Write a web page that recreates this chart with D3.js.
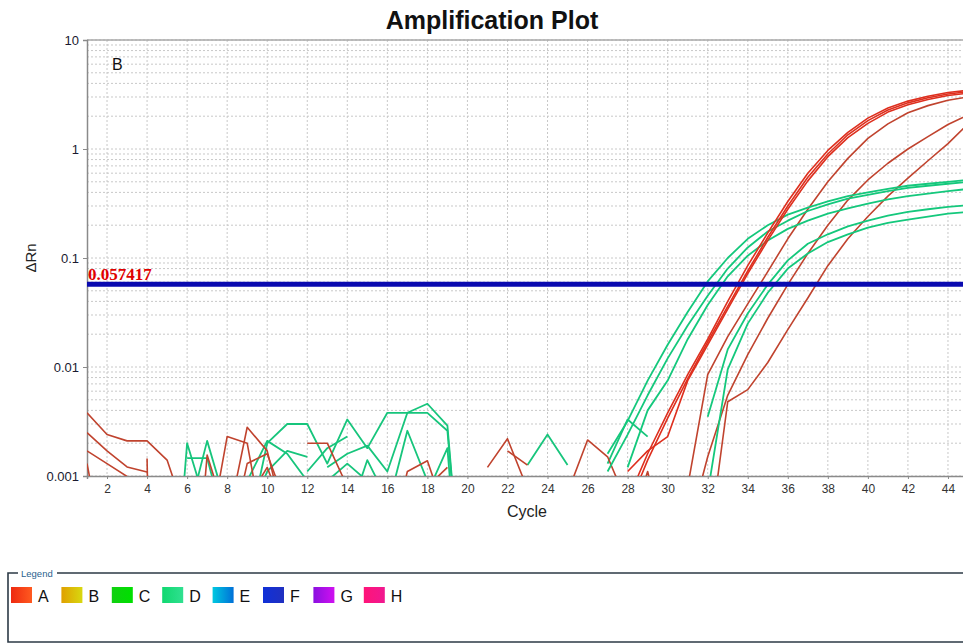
<!DOCTYPE html>
<html><head><meta charset="utf-8">
<script src="https://cdn.jsdelivr.net/npm/d3@7"></script>
<style>body{margin:0;background:#fff;overflow:hidden}svg{display:block}</style>
</head><body><svg id="c" width="963" height="644"></svg>
<script>
// ---- data ----
const xTickValues = [2,4,6,8,10,12,14,16,18,20,22,24,26,28,30,32,34,36,38,40,42,44];
const yTickValues = [0.001,0.01,0.1,1,10];
const yTickLabels = ["0.001","0.01","0.1","1","10"];
const threshold = 0.057417;
const legendLabels = ["A","B","C","D","E","F","G","H"];
const legendColorsFrom = ["#ee2a10","#e0a000","#10d010","#10d870","#00c8e0","#1030d8","#8a10e0","#ff1478"];
const legendColorsTo   = ["#ff5a20","#d8d810","#00e000","#30e090","#0070d8","#2030c0","#d010f0","#f01890"];

// amplification curves [cycle, ΔRn]
const redA1 = [[28,0.0006],[29,0.0016],[30,0.0038],[31,0.0085],[32,0.018],[33,0.040],[34,0.085],[35,0.17],[36,0.33],[37,0.6],[38,0.97],[39,1.42],[40,1.92],[41,2.38],[42,2.75],[43,3.05],[44,3.3],[45,3.45]];
const redA2 = [[28,0.0005],[29,0.0014],[30,0.0034],[31,0.0078],[32,0.017],[33,0.036],[34,0.076],[35,0.155],[36,0.3],[37,0.55],[38,0.9],[39,1.35],[40,1.82],[41,2.28],[42,2.65],[43,2.95],[44,3.2],[45,3.35]];
const redA3 = [[28,0.0011],[29,0.0017],[30,0.0023],[31,0.0075],[32,0.016],[33,0.034],[34,0.072],[35,0.145],[36,0.28],[37,0.51],[38,0.85],[39,1.27],[40,1.72],[41,2.18],[42,2.55],[43,2.85],[44,3.1],[45,3.25]];
const redA4 = [[31,0.0008],[32,0.0085],[33,0.019],[34,0.038],[35,0.075],[36,0.15],[37,0.28],[38,0.5],[39,0.82],[40,1.25],[41,1.7],[42,2.15],[43,2.5],[44,2.8],[45,3.0]];
const redA5 = [[31,0.0003],[32,0.0015],[33,0.0055],[34,0.013],[35,0.028],[36,0.057],[37,0.11],[38,0.2],[39,0.34],[40,0.52],[41,0.74],[42,1.0],[43,1.3],[44,1.68],[45,2.05]];
const redA6 = [[32,0.0002],[33,0.0048],[34,0.0062],[35,0.011],[36,0.022],[37,0.043],[38,0.085],[39,0.15],[40,0.24],[41,0.37],[42,0.54],[43,0.78],[44,1.12],[45,1.7]];

const greenD1 = [[27,0.0016],[28,0.0032],[29,0.0075],[30,0.016],[31,0.032],[32,0.061],[33,0.1],[34,0.15],[35,0.2],[36,0.25],[37,0.29],[38,0.33],[39,0.37],[40,0.4],[41,0.43],[42,0.46],[43,0.48],[44,0.5],[45,0.52]];
const greenD2 = [[27,0.0011],[28,0.0024],[29,0.0055],[30,0.012],[31,0.024],[32,0.045],[33,0.08],[34,0.125],[35,0.175],[36,0.22],[37,0.27],[38,0.31],[39,0.35],[40,0.38],[41,0.41],[42,0.44],[43,0.46],[44,0.48],[45,0.5]];
const greenD3 = [[28,0.0012],[29,0.004],[30,0.0075],[31,0.018],[32,0.037],[33,0.068],[34,0.105],[35,0.145],[36,0.185],[37,0.22],[38,0.255],[39,0.285],[40,0.315],[41,0.345],[42,0.37],[43,0.39],[44,0.41],[45,0.43]];
const greenD4 = [[32,0.0035],[33,0.0145],[34,0.031],[35,0.057],[36,0.095],[37,0.135],[38,0.165],[39,0.195],[40,0.22],[41,0.245],[42,0.265],[43,0.28],[44,0.295],[45,0.305]];
const greenD5 = [[32,0.0007],[33,0.0095],[34,0.025],[35,0.048],[36,0.08],[37,0.11],[38,0.14],[39,0.165],[40,0.19],[41,0.21],[42,0.225],[43,0.24],[44,0.255],[45,0.265]];

// background noise fragments
const redN1 = [[1,0.0038],[2,0.0024],[3,0.0021],[4,0.0021],[5,0.0014],[6,0.0004]];
const redN2 = [[1,0.0025],[2,0.0017],[3,0.00121],[4,0.00109]];
const redN3 = [[4,0.00145],[4.02,0.0009]];
const redN4 = [[1,0.0017],[2,0.0013],[3,0.00099]];
const redN5 = [[1,0.0013],[2,0.00015]];
const redN6 = [[6,0.00001],[7,0.00156],[8,0.0004]];
const redN7 = [[7,0.00022],[8,0.0023],[9,0.002],[10,0.0002]];
const redN8 = [[8,0.00036],[9,0.0028],[10,0.0017],[11,0.0003]];
const redN9 = [[8,0.0002],[9,0.0013],[10,0.0016],[11,0.0005]];
const redN10 = [[9,0.0006],[10,0.0012],[11,0.0004]];
const redN11 = [[12,0.002],[13,0.002],[14,0.0008]];
const redN12 = [[16,0.0002],[17,0.0011],[18,0.00138],[19,0.0004]];
const redN13 = [[18,0.0008],[19,0.0012]];
const redN14 = [[21,0.0012],[22,0.0022],[23,0.00076]];
const redN15 = [[22,0.0017],[23,0.00126]];
const redN16 = [[25,0.0007],[26,0.00214],[27,0.0015],[28,0.00055]];
const redN17 = [[28,0.0003],[29,0.0011],[30,0.0002]];

const greenN1 = [[5,0.00001],[6,0.002],[7,0.0005]];
const greenN2 = [[6,0.00146],[7,0.00146],[8,0.0003]];
const greenN3 = [[6,0.0004],[7,0.0021],[8,0.0005]];
const greenN4 = [[9,0.00028],[10,0.002],[11,0.003],[12,0.003],[13,0.0013],[14,0.0033],[15,0.0018],[16,0.0038],[17,0.0038],[18,0.0038],[19,0.0026],[20,0.00002]];
const greenN5 = [[9,0.0009],[10,0.0021],[11,0.0016],[12,0.0009]];
const greenN6 = [[9,0.0004],[10,0.0011],[11,0.0017],[12,0.0015]];
const greenN7 = [[12,0.0011],[13,0.0018],[14,0.0023]];
const greenN8 = [[13,0.0012],[14,0.0016],[15,0.0019],[16,0.0011],[17,0.0038],[18,0.0046],[19,0.0029],[20,0.00002]];
const greenN9 = [[16,0.0005],[17,0.0026],[18,0.0009]];
const greenN10 = [[18,0.0007],[19,0.0018],[20,0.00001]];
const greenN11 = [[23,0.00126],[24,0.0024],[25,0.00126]];
const greenN12 = [[27,0.0013],[28,0.0033],[29,0.0023]];
const greenN13 = [[14,0.0004],[15,0.0014],[16,0.0006]];
const greenN14 = [[13,0.0009],[14,0.0013],[15,0.0009]];

const brightReds = [redA1, redA2, redA3];
const darkReds = [redA4, redA5, redA6, redN1, redN2, redN3, redN4, redN5, redN6, redN7, redN8, redN9, redN10, redN11, redN12, redN13, redN14, redN15, redN16, redN17];
const greenCurves = [greenD1, greenD2, greenD3, greenD4, greenD5];
const greenNoise = [greenN1, greenN2, greenN3, greenN4, greenN5, greenN6, greenN7, greenN8, greenN9, greenN10, greenN11, greenN12, greenN13, greenN14];

// ---- drawing ----
const svg = d3.select("#c");
const L = 87, T = 40, B = 476, R = 968;
const x = d3.scaleLinear().domain([1,45]).range([L,R]);
const y = d3.scaleLog().domain([0.001,10]).range([B,T]);

svg.append("defs").append("clipPath").attr("id","clip")
  .append("rect").attr("x",L).attr("y",T).attr("width",R-L).attr("height",B-T);

// grid
const grid = svg.append("g");
grid.selectAll("line.h").data(y.ticks()).join("line")
  .attr("x1",L).attr("x2",R).attr("y1",d=>y(d)).attr("y2",d=>y(d))
  .attr("stroke","#c8c8c8").attr("stroke-width",1).attr("stroke-dasharray","2,2");
grid.selectAll("line.v").data(xTickValues).join("line")
  .attr("x1",d=>x(d)).attr("x2",d=>x(d)).attr("y1",T).attr("y2",B)
  .attr("stroke","#c8c8c8").attr("stroke-width",1).attr("stroke-dasharray","2,2");

// frame
svg.append("line").attr("x1",L).attr("x2",R).attr("y1",T).attr("y2",T).attr("stroke","#a8a8a8").attr("stroke-width",1.5);

// axes
const yAxis = d3.axisLeft(y).tickValues(yTickValues).tickFormat((d,i)=>yTickLabels[i]).tickSize(4).tickPadding(4);
const gy = svg.append("g").attr("transform",`translate(${L},0)`).call(yAxis);
gy.select(".domain").attr("stroke","#8a8a8a").attr("stroke-width",1.5);
gy.selectAll(".tick line").attr("stroke","#8a8a8a");
gy.selectAll("text").attr("font-family","Liberation Sans, Arial, sans-serif").attr("font-size",13).attr("fill","#1a1a30");

const xAxis = d3.axisBottom(x).tickValues(xTickValues).tickSize(3).tickPadding(5);
const gx = svg.append("g").attr("transform",`translate(0,${B})`).call(xAxis);
gx.select(".domain").attr("stroke","#8a8a8a").attr("stroke-width",1.5);
gx.selectAll(".tick line").attr("stroke","#8a8a8a");
gx.selectAll("text").attr("font-family","Liberation Sans, Arial, sans-serif").attr("font-size",12).attr("fill","#333");

// lines
const line = d3.line().x(d=>x(d[0])).y(d=>y(d[1]));
const plot = svg.append("g").attr("clip-path","url(#clip)");
plot.selectAll("path.gn").data(greenNoise).join("path")
  .attr("d",line).attr("fill","none").attr("stroke","#17c57c").attr("stroke-width",1.8).attr("stroke-linejoin","round");
plot.selectAll("path.dr").data(darkReds).join("path")
  .attr("d",line).attr("fill","none").attr("stroke","#c0432e").attr("stroke-width",1.6).attr("stroke-linejoin","round");
plot.selectAll("path.gc").data(greenCurves).join("path")
  .attr("d",line).attr("fill","none").attr("stroke","#14c87c").attr("stroke-width",1.8).attr("stroke-linejoin","round");
plot.selectAll("path.br").data(brightReds).join("path")
  .attr("d",line).attr("fill","none").attr("stroke","#de2f1e").attr("stroke-width",1.6).attr("stroke-linejoin","round");

// threshold
svg.append("line").attr("x1",L).attr("x2",R).attr("y1",y(threshold)).attr("y2",y(threshold))
  .attr("stroke","#0a0ab0").attr("stroke-width",5);
svg.append("text").attr("x",L+1).attr("y",y(threshold)-4).text(String(threshold))
  .attr("font-family","Liberation Serif, Times New Roman, serif").attr("font-weight","bold").attr("font-size",17).attr("fill","#e00000");

// labels
svg.append("text").attr("x",492).attr("y",29).attr("text-anchor","middle").text("Amplification Plot")
  .attr("font-family","Liberation Sans, Arial, sans-serif").attr("font-weight","bold").attr("font-size",25).attr("fill","#111");
svg.append("text").attr("x",112).attr("y",70).text("B")
  .attr("font-family","Liberation Sans, Arial, sans-serif").attr("font-size",16).attr("fill","#111");
svg.append("text").attr("transform","translate(36,258) rotate(-90)").attr("text-anchor","middle").text("ΔRn")
  .attr("font-family","Liberation Sans, Arial, sans-serif").attr("font-size",15).attr("fill","#222");
svg.append("text").attr("x",527).attr("y",517).attr("text-anchor","middle").text("Cycle")
  .attr("font-family","Liberation Sans, Arial, sans-serif").attr("font-size",16).attr("fill","#222");

// legend
const lg = svg.append("g");
lg.append("path").attr("d","M18,573 H8 V642 H963 M57,573 H963").attr("fill","none").attr("stroke","#2c3a46").attr("stroke-width",1.6);
lg.append("text").attr("x",21).attr("y",577).text("Legend")
  .attr("font-family","Liberation Sans, Arial, sans-serif").attr("font-size",9.5).attr("fill","#2a5f8e");
const defs = svg.select("defs");
legendLabels.forEach((lab,i)=>{
  const gid = "lg"+i;
  const gr = defs.append("linearGradient").attr("id",gid).attr("x1","0").attr("x2","1").attr("y1","0").attr("y2","0");
  gr.append("stop").attr("offset","0").attr("stop-color",legendColorsFrom[i]);
  gr.append("stop").attr("offset","1").attr("stop-color",legendColorsTo[i]);
  const x0 = 11 + i*50.4;
  lg.append("rect").attr("x",x0).attr("y",587).attr("width",21).attr("height",16).attr("fill",`url(#${gid})`);
  lg.append("text").attr("x",x0+27).attr("y",602).text(lab)
    .attr("font-family","Liberation Sans, Arial, sans-serif").attr("font-size",16).attr("fill","#111");
});
</script></body></html>
